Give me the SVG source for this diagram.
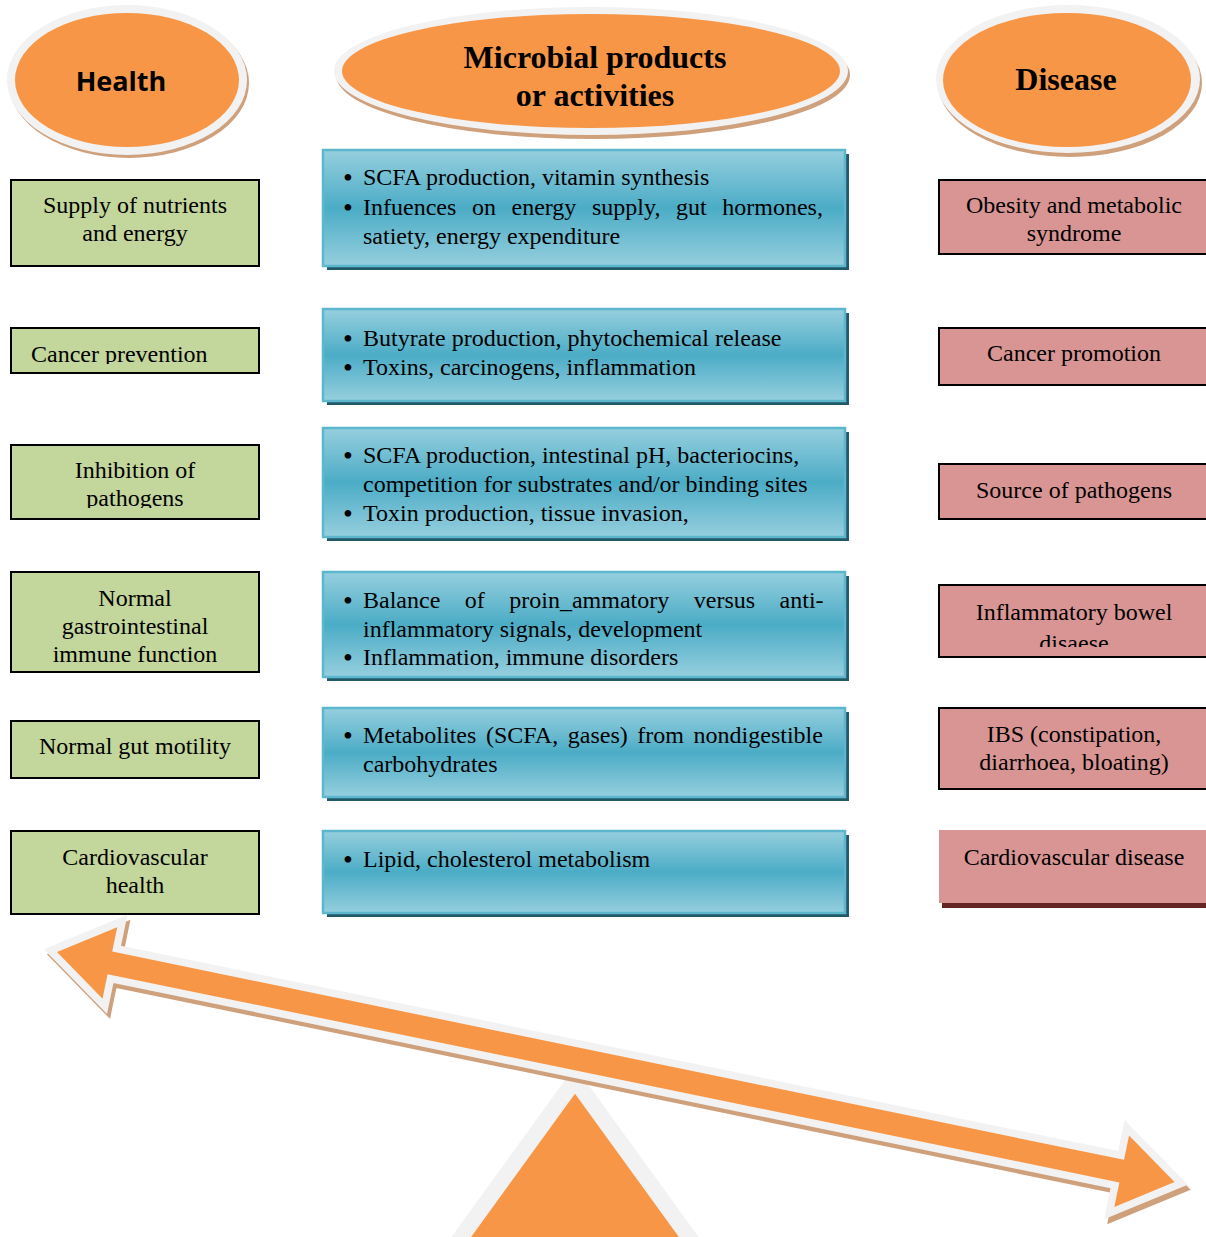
<svg xmlns="http://www.w3.org/2000/svg" width="1206" height="1237" viewBox="0 0 1206 1237">
<defs>
<linearGradient id="blueGrad" x1="0" y1="0" x2="0" y2="1">
<stop offset="0" stop-color="#96CFDE"/>
<stop offset="0.5" stop-color="#4BACC6"/>
<stop offset="1" stop-color="#96CFDE"/>
</linearGradient>
<clipPath id="clipCancer"><rect x="0" y="320" width="270" height="44"/></clipPath>
<clipPath id="clipPath3"><rect x="0" y="440" width="270" height="68"/></clipPath>
<clipPath id="clipIBD"><rect x="930" y="580" width="276" height="67"/></clipPath>
</defs>
<style>
.t{font-family:"Liberation Serif","Times New Roman",serif;font-size:24px;fill:#000}
.b{font-size:28px}
.c{text-anchor:middle}
.green{fill:#C3D69B;stroke:#000;stroke-width:2}
.pink{fill:#D99594;stroke:#000;stroke-width:2}
.blue{fill:url(#blueGrad);stroke:#5BB6CE;stroke-width:2.5}
.bshadow{fill:#215968}
.ering{fill:#F2F2F2}
.eshadow{fill:#CFA07C}
.eorange{fill:#F79646}
.hd{font-family:"Liberation Serif","Times New Roman",serif;font-weight:bold;font-size:32px;text-anchor:middle;fill:#000}
</style>

<!-- Header ellipses -->
<g id="health-header">
<ellipse class="eshadow" cx="129" cy="83" rx="120" ry="75"/>
<ellipse class="ering" cx="127" cy="80" rx="120" ry="75"/>
<ellipse class="eorange" cx="127" cy="80" rx="112" ry="67"/>
<text x="121" y="91" font-family="'Open Sans','Liberation Sans',sans-serif" font-weight="bold" font-size="27" text-anchor="middle" fill="#000">Health</text>
</g>
<g id="microbial-header">
<ellipse class="eshadow" cx="593" cy="75" rx="257" ry="64"/>
<ellipse class="ering" cx="591" cy="71" rx="257" ry="64"/>
<ellipse class="eorange" cx="591" cy="71" rx="249" ry="57"/>
<text class="hd" x="595" y="68">Microbial products</text>
<text class="hd" x="595" y="106">or activities</text>
</g>
<g id="disease-header">
<ellipse class="eshadow" cx="1070" cy="83" rx="132" ry="74"/>
<ellipse class="ering" cx="1068" cy="79" rx="132" ry="74"/>
<ellipse class="eorange" cx="1067" cy="80" rx="124" ry="67"/>
<text class="hd" x="1066" y="90">Disease</text>
</g>

<!-- Health column -->
<g id="h1"><rect class="green" x="11" y="180" width="248" height="86"/>
<text class="t c" x="135" y="213">Supply of nutrients</text><text class="t c" x="135" y="241">and energy</text></g>
<g id="h2"><rect class="green" x="11" y="328" width="248" height="45"/>
<text class="t" x="31" y="362" clip-path="url(#clipCancer)">Cancer prevention</text></g>
<g id="h3"><rect class="green" x="11" y="445" width="248" height="74"/>
<text class="t c" x="135" y="478">Inhibition of</text><text class="t c" x="135" y="506" clip-path="url(#clipPath3)">pathogens</text></g>
<g id="h4"><rect class="green" x="11" y="572" width="248" height="100"/>
<text class="t c" x="135" y="606">Normal</text><text class="t c" x="135" y="634">gastrointestinal</text><text class="t c" x="135" y="662">immune function</text></g>
<g id="h5"><rect class="green" x="11" y="721" width="248" height="57"/>
<text class="t c" x="135" y="754">Normal gut motility</text></g>
<g id="h6"><rect class="green" x="11" y="831" width="248" height="83"/>
<text class="t c" x="135" y="865">Cardiovascular</text><text class="t c" x="135" y="893">health</text></g>

<!-- Microbial column -->
<g id="m1"><rect class="bshadow" x="327" y="154" width="522" height="116"/><rect class="blue" x="323" y="150" width="522" height="116"/>
<text class="t" y="185"><tspan class="b" x="343" dy="2">•</tspan><tspan x="363" dy="-2">SCFA production, vitamin synthesis</tspan></text>
<text class="t" y="215"><tspan class="b" x="343" dy="2">•</tspan><tspan x="363" dy="-2" word-spacing="9.6">Infuences on energy supply, gut hormones,</tspan></text>
<text class="t" x="363" y="244">satiety, energy expenditure</text></g>
<g id="m2"><rect class="bshadow" x="327" y="313" width="522" height="92"/><rect class="blue" x="323" y="309" width="522" height="92"/>
<text class="t" y="346"><tspan class="b" x="343" dy="2">•</tspan><tspan x="363" dy="-2">Butyrate production, phytochemical release</tspan></text>
<text class="t" y="375"><tspan class="b" x="343" dy="2">•</tspan><tspan x="363" dy="-2">Toxins, carcinogens, inflammation</tspan></text></g>
<g id="m3"><rect class="bshadow" x="327" y="432" width="522" height="109"/><rect class="blue" x="323" y="428" width="522" height="109"/>
<text class="t" y="463"><tspan class="b" x="343" dy="2">•</tspan><tspan x="363" dy="-2">SCFA production, intestinal pH, bacteriocins,</tspan></text>
<text class="t" x="363" y="492">competition for substrates and/or binding sites</text>
<text class="t" y="521"><tspan class="b" x="343" dy="2">•</tspan><tspan x="363" dy="-2">Toxin production, tissue invasion,</tspan></text></g>
<g id="m4"><rect class="bshadow" x="327" y="576" width="522" height="105"/><rect class="blue" x="323" y="572" width="522" height="105"/>
<text class="t" y="608"><tspan class="b" x="343" dy="2">•</tspan><tspan x="363" dy="-2" word-spacing="18.5">Balance of proin_ammatory versus anti-</tspan></text>
<text class="t" x="363" y="637">inflammatory signals, development</text>
<text class="t" y="665"><tspan class="b" x="343" dy="2">•</tspan><tspan x="363" dy="-2">Inflammation, immune disorders</tspan></text></g>
<g id="m5"><rect class="bshadow" x="327" y="712" width="522" height="89"/><rect class="blue" x="323" y="708" width="522" height="89"/>
<text class="t" y="743"><tspan class="b" x="343" dy="2">•</tspan><tspan x="363" dy="-2" word-spacing="3.6">Metabolites (SCFA, gases) from nondigestible</tspan></text>
<text class="t" x="363" y="772">carbohydrates</text></g>
<g id="m6"><rect class="bshadow" x="327" y="835" width="522" height="82"/><rect class="blue" x="323" y="831" width="522" height="82"/>
<text class="t" y="867"><tspan class="b" x="343" dy="2">•</tspan><tspan x="363" dy="-2">Lipid, cholesterol metabolism</tspan></text></g>

<!-- Disease column -->
<g id="d1"><rect class="pink" x="939" y="180" width="280" height="74"/>
<text class="t c" x="1074" y="213">Obesity and metabolic</text><text class="t c" x="1074" y="241">syndrome</text></g>
<g id="d2"><rect class="pink" x="939" y="328" width="280" height="57"/>
<text class="t c" x="1074" y="361">Cancer promotion</text></g>
<g id="d3"><rect class="pink" x="939" y="464" width="280" height="55"/>
<text class="t c" x="1074" y="498">Source of pathogens</text></g>
<g id="d4"><rect class="pink" x="939" y="585" width="280" height="72"/>
<text class="t c" x="1074" y="620">Inflammatory bowel</text><text class="t c" x="1074" y="651" clip-path="url(#clipIBD)">disaese</text></g>
<g id="d5"><rect class="pink" x="939" y="708" width="280" height="81"/>
<text class="t c" x="1074" y="742">IBS (constipation,</text><text class="t c" x="1074" y="770">diarrhoea, bloating)</text></g>
<g id="d6"><rect x="942" y="835" width="280" height="73" fill="#632423"/><rect x="939" y="830" width="280" height="73" fill="#D99594"/>
<text class="t c" x="1074" y="865">Cardiovascular disease</text></g>

<!-- Balance: fulcrum and double arrow -->
<g id="fulcrum">
<path d="M575,1080 L446,1258 L704,1258 Z" fill="#F79646" stroke="#F2F2F2" stroke-width="16" stroke-linejoin="miter"/>
</g>
<g id="connectors">
<g transform="translate(60,957) rotate(11.63)">
<path d="M0,0 L54,-36.5 L54,-11.5 L1087,-11.5 L1087,-36.5 L1141,0 L1087,36.5 L1087,11.5 L54,11.5 L54,36.5 Z" fill="#CFA07C" stroke="#CFA07C" stroke-width="15" stroke-linejoin="miter"/>
</g>
<g transform="translate(57,952) rotate(11.63)">
<path d="M0,0 L54,-36.5 L54,-11.5 L1087,-11.5 L1087,-36.5 L1141,0 L1087,36.5 L1087,11.5 L54,11.5 L54,36.5 Z" fill="#F79646" stroke="#F2F2F2" stroke-width="15" stroke-linejoin="miter"/>
<path d="M0,0 L54,-36.5 L54,-11.5 L1087,-11.5 L1087,-36.5 L1141,0 L1087,36.5 L1087,11.5 L54,11.5 L54,36.5 Z" fill="#F79646"/>
</g>
</g>
</svg>
